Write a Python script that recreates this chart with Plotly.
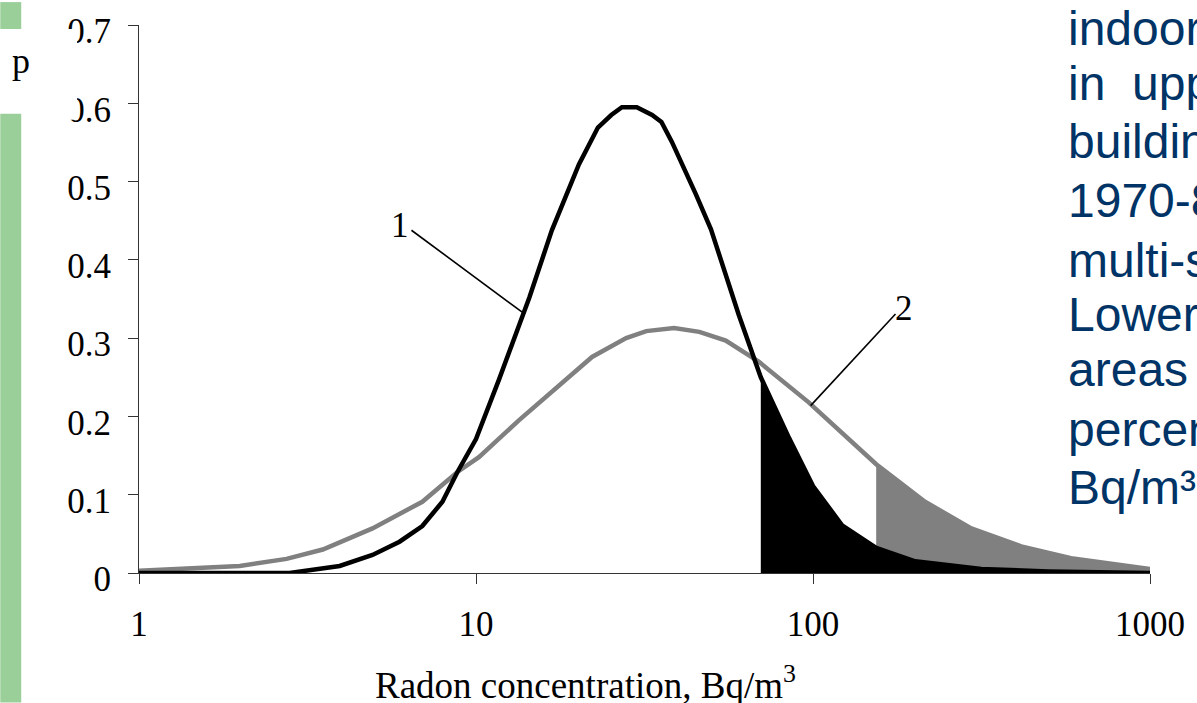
import plotly.graph_objects as go

# ---------------- data ----------------
black_x = [1, 1.5, 2, 2.8, 3.94, 4.93, 5.93, 6.93, 7.95, 8.81, 10.0, 11.7, 14.4, 16.8,
           20.2, 23.0, 25.2, 27.1, 30.0, 33.3, 35.5, 38.1, 44.9, 49.8, 60.2, 70.0, 85.0,
           100, 122, 154, 201, 316, 500, 1000]
black_y = [0, 0, 0, 0, 0.009, 0.023, 0.040, 0.060, 0.091, 0.129, 0.171, 0.247, 0.352, 0.438,
           0.522, 0.569, 0.585, 0.595, 0.595, 0.585, 0.576, 0.551, 0.484, 0.439, 0.330, 0.250, 0.172,
           0.111, 0.061, 0.032, 0.015, 0.005, 0.002, 0.0]

gray_x = [1, 1.99, 2.74, 3.51, 4.93, 6.93, 8.81, 10.2, 13.4, 17.6, 22.1, 27.9, 32.0, 38.7,
          46.0, 55.1, 69.0, 97.1, 130, 154, 215, 295, 415, 583, 1000]
gray_y = [0.003, 0.009, 0.018, 0.030, 0.057, 0.091, 0.129, 0.148, 0.195, 0.240, 0.276, 0.300,
          0.309, 0.313, 0.308, 0.297, 0.270, 0.218, 0.168, 0.139, 0.091, 0.057, 0.034, 0.019, 0.005]

black_fill_from = 70    # Bq/m3, start of the black shaded tail
gray_fill_from = 154    # Bq/m3, start of the gray shaded tail

x_tick_vals = [1, 10, 100, 1000]
x_tick_text = ["1", "10", "100", "1000"]
y_tick_vals = [0, 0.1, 0.2, 0.3, 0.4, 0.5, 0.6, 0.7]
y_tick_text = ["0", "0.1", "0.2", "0.3", "0.4", "0.5", "0.6", "0.7"]

x_title = "Radon concentration, Bq/m<sup>3</sup>"
y_title = "p"
curve_labels = ["1", "2"]
side_text = ["indoor", "in  upp", "buildin", "1970-8", "multi-s", "Lower", "areas",
             "percen", "Bq/m\u00b3"]

# ---------------- layout helpers ----------------
W, H = 1197, 703
L, R, T, B = 139, 45, 23, 130
PW, PH = W - L - R, H - T - B


def px(x):
    return (x - L) / PW


def py(y):
    return (H - B - y) / PH


SERIF = "Liberation Serif, Times New Roman, serif"
SANS = "Liberation Sans, Arial, sans-serif"

fig = go.Figure()

bf = [(x, y) for x, y in zip(black_x, black_y) if x >= black_fill_from]
gf = [(x, y) for x, y in zip(gray_x, gray_y) if x >= gray_fill_from]

fig.add_trace(go.Scatter(x=[p[0] for p in gf], y=[p[1] for p in gf], mode="lines",
                         line=dict(width=0, color="#808080"), fill="tozeroy",
                         fillcolor="#808080", hoverinfo="skip", showlegend=False))
fig.add_trace(go.Scatter(x=[p[0] for p in bf], y=[p[1] for p in bf], mode="lines",
                         line=dict(width=0, color="black"), fill="tozeroy",
                         fillcolor="black", hoverinfo="skip", showlegend=False))
fig.add_trace(go.Scatter(x=gray_x, y=gray_y, mode="lines",
                         line=dict(width=4.5, color="#808080"), showlegend=False))
fig.add_trace(go.Scatter(x=black_x, y=black_y, mode="lines",
                         line=dict(width=4.5, color="black"), showlegend=False))

fig.update_layout(
    width=W, height=H,
    margin=dict(l=L, r=R, t=T, b=B, pad=0),
    paper_bgcolor="white", plot_bgcolor="white",
    showlegend=False,
    font=dict(family=SERIF, size=35, color="black"),
    xaxis=dict(type="log", range=[0, 3], tickvals=x_tick_vals, ticktext=x_tick_text,
               ticks="outside", ticklen=10, tickcolor="#333333", tickwidth=1,
               showline=True, linecolor="#333333", linewidth=1,
               showgrid=False, zeroline=False, ticklabelstandoff=10,
               tickfont=dict(family=SERIF, size=35, color="black")),
    yaxis=dict(range=[0, 0.7], tickvals=y_tick_vals, ticktext=y_tick_text,
               ticks="outside", ticklen=10, tickcolor="#333333", tickwidth=1,
               showline=True, linecolor="#333333", linewidth=1,
               showgrid=False, zeroline=False, ticklabelstandoff=10, ticklabelshift=6,
               ticklabeloverflow="allow",
               tickfont=dict(family=SERIF, size=35, color="black")),
)

shapes = [
    # white label box over the left of the upper tick labels
    dict(type="rect", xref="paper", yref="paper", x0=px(0), x1=px(77), y0=py(118), y1=py(27),
         fillcolor="white", line=dict(width=0), layer="above"),
    # green slide bars
    dict(type="rect", xref="paper", yref="paper", x0=px(0), x1=px(21), y0=py(27), y1=py(0),
         fillcolor="#9BCF9A", line=dict(width=0), layer="above"),
    dict(type="rect", xref="paper", yref="paper", x0=px(0), x1=px(21), y0=py(703), y1=py(112),
         fillcolor="#9BCF9A", line=dict(width=0), layer="above"),
    # leader lines for the curve labels
    dict(type="line", xref="paper", yref="paper", x0=px(412), y0=py(229), x1=px(524), y1=py(312),
         line=dict(color="black", width=1.6), layer="above"),
    dict(type="line", xref="paper", yref="paper", x0=px(897), y0=py(313), x1=px(812), y1=py(405),
         line=dict(color="black", width=1.6), layer="above"),
]
fig.update_layout(shapes=shapes)

ann = []
ann.append(dict(text=y_title, x=px(21), y=py(59), xref="paper", yref="paper",
                showarrow=False, xanchor="center", yanchor="middle",
                font=dict(family=SERIF, size=36, color="black")))
ann.append(dict(text=curve_labels[0], x=px(401), y=py(224), xref="paper", yref="paper",
                showarrow=False, xanchor="center", yanchor="middle",
                font=dict(family=SERIF, size=35, color="black")))
ann.append(dict(text=curve_labels[1], x=px(906), y=py(308), xref="paper", yref="paper",
                showarrow=False, xanchor="center", yanchor="middle",
                font=dict(family=SERIF, size=35, color="black")))
ann.append(dict(text=x_title, x=px(586), y=py(683), xref="paper", yref="paper",
                showarrow=False, xanchor="center", yanchor="middle",
                font=dict(family=SERIF, size=37, color="black")))
baselines = [45, 100, 158, 217, 277, 332, 387, 447, 505]
for t, b in zip(side_text, baselines):
    ann.append(dict(text=t, x=px(1068), y=py(b - 18), xref="paper", yref="paper",
                    showarrow=False, xanchor="left", yanchor="middle",
                    font=dict(family=SANS, size=48, color="#003366")))
fig.update_layout(annotations=ann)

fig.write_html("out.html", config={"displayModeBar": False},
               post_script="document.body.style.margin='0';")
